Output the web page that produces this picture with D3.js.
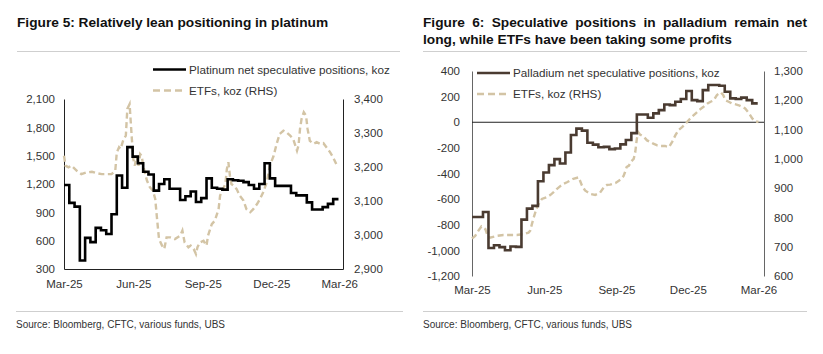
<!DOCTYPE html><meta charset="utf-8"><style>
    body { margin: 0; background: #fff; }
    svg text { font-family: "Liberation Sans", Arial, sans-serif; fill: #333; }
    .title { font-size: 13.7px; font-weight: bold; fill: #111 !important; }
    .tick text { font-size: 11.5px; }
    .legend text { font-size: 11.7px; }
    .source { font-size: 10px; }
</style><svg width="823" height="354"></svg><script src="https://cdn.jsdelivr.net/npm/d3@7"></script><script>

    var width = 823, height = 354;

    // weekly CFTC net speculative positions (koz), one value per week from 1 Mar 2025
    var weekStart = "2025-03-01";
    var platinumNet = [1190, 1000, 960, 390, 630, 585, 735, 710, 670, 880, 1290, 1160, 1590, 1490,
        1420, 1330, 1300, 1130, 1200, 1250, 1150, 1150, 1030, 1070, 1120, 1010, 1050, 1260, 1160,
        1150, 1140, 1250, 1240, 1235, 1220, 1190, 1150, 1200, 1420, 1260, 1180, 1180, 1180, 1105,
        1080, 1080, 1005, 930, 930, 955, 990, 1040];
    var palladiumNet = [-739, -739, -700, -981, -960, -975, -999, -970, -973, -760, -674, -653,
        -460, -392, -335, -288, -322, -236, -100, -50, -65, -160, -175, -195, -192, -210, -205,
        -173, -139, -85, 61, 61, 35, 69, 95, 139, 134, 160, 181, 244, 173, 165, 251, 291, 291,
        285, 238, 186, 181, 192, 173, 147];

    // ETF holdings (koz), days after 1 Mar 2025
    var platinumEtfDays = [0, 2, 6, 10, 17, 23, 30, 37, 43, 50, 57, 63, 68, 70, 73, 75, 79, 82, 84, 87,
        88, 90, 92, 94, 96, 99, 101, 103, 105, 110, 114, 118, 121, 123, 126, 130, 133, 136, 141, 147,
        154, 157, 160, 165, 168, 172, 175, 177, 180, 185, 189, 191, 196, 200, 205, 207, 211, 214, 216, 218,
        220, 222, 225, 229, 233, 238, 242, 247, 251, 256, 260, 264, 269, 273, 278, 282, 286, 291, 295, 300,
        304, 309, 311, 313, 315, 318, 321, 323, 326, 331, 335, 340, 344, 348, 353, 357, 362];
    var platinumEtf = [3233, 3204, 3199, 3204, 3189, 3179, 3184, 3186, 3182, 3179, 3179, 3179, 3189, 3243,
        3258, 3253, 3282, 3292, 3371, 3385, 3350, 3282, 3223, 3204, 3233, 3204, 3238, 3233, 3204, 3160,
        3140, 3130, 3106, 3057, 2988, 2969, 2959, 2993, 2993, 2988, 2998, 3013, 2978, 2964, 2969, 2959,
        2944, 2964, 2978, 2983, 2969, 2998, 3032, 3042, 3076, 3116, 3135, 3150, 3194, 3214, 3175, 3150,
        3145, 3135, 3116, 3101, 3076, 3067, 3076, 3091, 3106, 3125, 3155, 3204, 3233, 3268, 3297, 3307,
        3302, 3292, 3282, 3248, 3263, 3312, 3341, 3361, 3351, 3312, 3277, 3268, 3273, 3268, 3270, 3258,
        3243, 3228, 3204];
    var palladiumEtfDays = [0, 4, 8, 12, 17, 20, 23, 32, 40, 49, 57, 66, 72, 74, 78, 82, 85, 89, 95, 100,
        104, 108, 112, 117, 121, 125, 129, 136, 140, 144, 151, 157, 163, 168, 172,
        176, 183, 189, 193, 195, 197, 200, 202, 206, 208, 210, 212, 214, 219, 223, 227, 231, 236, 240, 246,
        251, 255, 259, 263, 268, 272, 276, 280, 285, 289, 295, 300, 304, 308, 312, 317, 320, 323, 327, 331,
        336, 340, 344, 348, 353, 357, 361, 365];
    var palladiumEtf = [728, 737, 754, 769, 760, 737, 731, 737, 740, 740, 740, 743, 748, 754, 794, 829,
        846, 863, 869, 877, 886, 897, 906, 915, 920, 926, 932, 937, 909, 892, 880, 877, 884, 903, 911,
        912, 918, 929, 941, 955, 972, 977, 989, 1000, 1023, 1069, 1090, 1083, 1075, 1063, 1058, 1052, 1046,
        1044, 1044, 1040, 1058, 1080, 1098, 1109, 1120, 1132, 1143, 1155, 1166, 1178, 1189, 1195, 1200,
        1218, 1227, 1218, 1200, 1195, 1189, 1186, 1183, 1178, 1172, 1155, 1138, 1128, 1126];

    var monthTicks = ["2025-03-01", "2025-06-01", "2025-09-01", "2025-12-01", "2026-03-01"];
    var ptLeftTicks = [300, 600, 900, 1200, 1500, 1800, 2100];
    var ptRightTicks = [2900, 3000, 3100, 3200, 3300, 3400];
    var pdLeftTicks = [-1200, -1000, -800, -600, -400, -200, 0, 200, 400];
    var pdRightTicks = [600, 700, 800, 900, 1000, 1100, 1200, 1300];

    var title5 = "Figure 5: Relatively lean positioning in platinum";
    var title6 = ["Figure 6: Speculative positions in palladium remain net",
        "long, while ETFs have been taking some profits"];
    var sourceText = "Source: Bloomberg, CFTC, various funds, UBS";

    var parse = d3.utcParse("%Y-%m-%d");
    var start = parse(weekStart);
    var fmtNum = d => d3.format(",")(d).replace("\u2212", "-");
    var fmtDate = d3.utcFormat("%b-%y");

    function weekly(values) {
        var rows = values.map((v, i) => ({date: d3.utcDay.offset(start, 7 * i), value: v}));
        rows.push({date: d3.utcDay.offset(start, 7 * values.length), value: values[values.length - 1]});
        return rows;
    }
    function daily(days, values) {
        return days.map((d, i) => ({date: d3.utcDay.offset(start, d), value: values[i]}));
    }

    const svg = d3.select("svg").attr("viewBox", [0, 0, width, height]);

    function panel(o) {
        var g = svg.append("g");
        var x = d3.scaleUtc().domain([start, parse(o.xEnd)]).range([o.left, o.right]);
        var yL = d3.scaleLinear().domain(d3.extent(o.leftTicks)).range([o.bottom, o.top]);
        var yR = d3.scaleLinear().domain(d3.extent(o.rightTicks)).range([o.bottom, o.top]);

        // axes
        g.append("g")
            .attr("transform", `translate(${o.left},0)`)
            .call(d3.axisLeft(yL).tickValues(o.leftTicks).tickFormat(fmtNum).tickSize(0).tickPadding(o.padL))
            .call(g => g.select(".domain").attr("stroke", o.axisColor));
        g.append("g")
            .attr("transform", `translate(${o.right},0)`)
            .call(d3.axisRight(yR).tickValues(o.rightTicks).tickFormat(fmtNum).tickSize(0).tickPadding(o.padR))
            .call(g => g.select(".domain").attr("stroke", o.axisColor));
        g.append("g")
            .attr("transform", `translate(0,${o.bottom})`)
            .call(d3.axisBottom(x).tickValues(monthTicks.map(parse)).tickFormat(fmtDate).tickSize(0).tickPadding(o.padB))
            .call(g => g.select(".domain").attr("stroke", o.axisColor).attr("display", o.bottomLine ? null : "none"));
        g.selectAll(".tick text").attr("fill", "#333");

        if (o.zeroLine) {
            g.append("line")
                .attr("x1", o.left).attr("x2", o.right)
                .attr("y1", yL(0)).attr("y2", yL(0))
                .attr("stroke", "#222").attr("stroke-width", 1);
        }

        g.append("path")
            .datum(o.etf)
            .attr("fill", "none")
            .attr("stroke", "#d3c4a5")
            .attr("stroke-width", 2.4)
            .attr("stroke-dasharray", "6,3.5")
            .attr("d", d3.line().x(d => x(d.date)).y(d => yR(d.value)));

        g.append("path")
            .datum(o.net)
            .attr("fill", "none")
            .attr("stroke", o.netColor)
            .attr("stroke-width", 2.6)
            .attr("d", d3.line().curve(d3.curveStepAfter).x(d => x(d.date)).y(d => yL(d.value)));

        // legend
        var lg = g.append("g").attr("class", "legend");
        lg.append("line").attr("x1", o.legX).attr("x2", o.legX + 33).attr("y1", o.legY).attr("y2", o.legY)
            .attr("stroke", o.netColor).attr("stroke-width", 2.6);
        lg.append("text").attr("x", o.legX + 36).attr("y", o.legY + 4).text(o.netLabel);
        lg.append("line").attr("x1", o.legX).attr("x2", o.legX + 33).attr("y1", o.legY + 21).attr("y2", o.legY + 21)
            .attr("stroke", "#d3c4a5").attr("stroke-width", 2.4).attr("stroke-dasharray", "7,4");
        lg.append("text").attr("x", o.legX + 36).attr("y", o.legY + 25).text("ETFs, koz (RHS)");
    }

    panel({
        left: 64, right: 343, top: 99, bottom: 269, xEnd: "2026-03-06",
        leftTicks: ptLeftTicks, rightTicks: ptRightTicks,
        padL: 9, padR: 11, padB: 11, axisColor: "#222", bottomLine: true, zeroLine: false,
        net: weekly(platinumNet), etf: daily(platinumEtfDays, platinumEtf), netColor: "#000",
        netLabel: "Platinum net speculative positions, koz", legX: 153, legY: 69.5
    });

    panel({
        left: 472, right: 764, top: 71, bottom: 276, xEnd: "2026-03-08",
        leftTicks: pdLeftTicks, rightTicks: pdRightTicks,
        padL: 12, padR: 10, padB: 10, axisColor: "#666", bottomLine: false, zeroLine: true,
        net: weekly(palladiumNet), etf: daily(palladiumEtfDays, palladiumEtf), netColor: "#4a3b31",
        netLabel: "Palladium net speculative positions, koz", legX: 477, legY: 73
    });

    // titles
    svg.append("text").attr("class", "title").attr("x", 17).attr("y", 27).text(title5);

    // first line of figure 6 title is justified
    var words = title6[0].split(" ");
    var ws = svg.append("g").attr("class", "title");
    var nodes = words.map(w => ws.append("text").attr("class", "title").attr("y", 27).text(w));
    var widths = nodes.map(n => n.node().getComputedTextLength());
    var gap = (807 - 423 - d3.sum(widths)) / (words.length - 1);
    var cx = 423;
    nodes.forEach((n, i) => { n.attr("x", cx); cx += widths[i] + gap; });
    svg.append("text").attr("class", "title").attr("x", 423).attr("y", 44).text(title6[1]);

    // rules and sources
    [[17, 400, 51.5], [423, 807, 51.5], [16, 403, 311.5], [423, 807, 311.5]].forEach(r => {
        svg.append("line").attr("x1", r[0]).attr("x2", r[1]).attr("y1", r[2]).attr("y2", r[2])
            .attr("stroke", "#cfcfcf").attr("stroke-width", 1);
    });
    svg.append("text").attr("class", "source").attr("x", 16).attr("y", 328).text(sourceText);
    svg.append("text").attr("class", "source").attr("x", 423).attr("y", 328).text(sourceText);

</script>
